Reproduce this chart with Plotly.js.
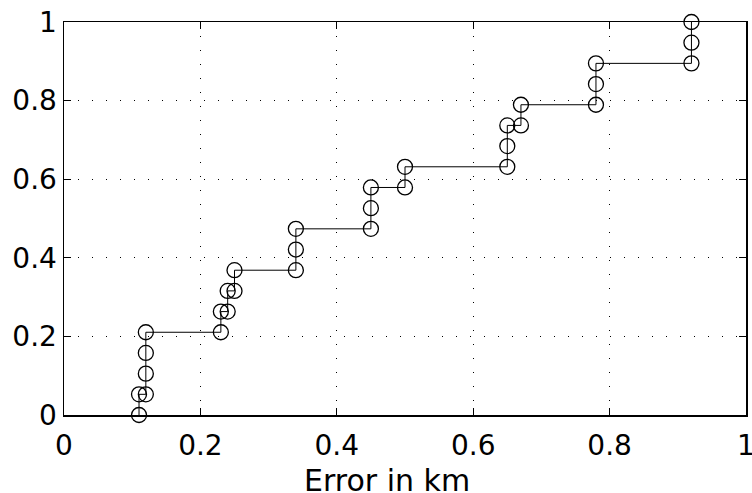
<!DOCTYPE html>
<html>
<head>
<meta charset="utf-8">
<script src="https://cdn.plot.ly/plotly-3.0.1.min.js"></script>
<style>html,body{margin:0;padding:0;background:#fff;}#chart{width:752px;height:493px;}</style>
</head>
<body>
<div id="chart"></div>
<script>
// Sorted errors (km) read from the staircase
const errors = [0.11, 0.12, 0.12, 0.12, 0.23, 0.24, 0.25, 0.34, 0.34, 0.45, 0.45, 0.50, 0.65, 0.65, 0.67, 0.78, 0.78, 0.92, 0.92];
const tickVals = [0, 0.2, 0.4, 0.6, 0.8, 1];
const tickText = ['0', '0.2', '0.4', '0.6', '0.8', '1'];
const xTitle = 'Error in km';

// Build the empirical CDF step path (vertices of the drawn line)
const N = errors.length;
const px = [], py = [];
function push(x, y) {
  const n = px.length;
  if (n && px[n-1] === x && Math.abs(py[n-1] - y) < 1e-12) return;
  px.push(x); py.push(y);
}
for (let i = 0; i < N; i++) {
  push(errors[i], i / N);
  push(errors[i], (i + 1) / N);
}

const font = 'DejaVu Sans, sans-serif';
const axisCommon = {
  range: [0, 1],
  tickvals: tickVals,
  ticktext: tickText,
  ticks: 'inside',
  ticklen: 7,
  tickwidth: 1,
  tickcolor: '#000',
  showline: true,
  linecolor: '#000',
  linewidth: 1.5,
  mirror: 'ticks',
  showgrid: true,
  gridcolor: '#000',
  gridwidth: 1,
  griddash: '1px,13px',
  zeroline: false,
  ticklabeloverflow: 'allow',
  tickfont: {family: font, size: 28, color: '#000'},
  fixedrange: true
};

const trace = {
  x: px, y: py,
  type: 'scatter',
  mode: 'lines+markers',
  line: {color: '#000', width: 1},
  marker: {symbol: 'circle-open', size: 15, color: '#000', line: {width: 1.3, color: '#000'}},
  cliponaxis: false,
  hoverinfo: 'skip'
};

const layout = {
  width: 752, height: 493,
  margin: {l: 64, r: 6, t: 22, b: 78},
  paper_bgcolor: '#fff', plot_bgcolor: '#fff',
  showlegend: false,
  xaxis: Object.assign({}, axisCommon, {ticklabelstandoff: 5}),
  yaxis: Object.assign({}, axisCommon, {}),
  annotations: [{
    text: xTitle, xref: 'paper', yref: 'paper',
    x: 0.4736, y: -0.1654, xanchor: 'center', yanchor: 'middle',
    showarrow: false, font: {family: font, size: 30, color: '#000'}
  }]
};

Plotly.newPlot('chart', [trace], layout, {staticPlot: true, displayModeBar: false});
</script>
</body>
</html>
